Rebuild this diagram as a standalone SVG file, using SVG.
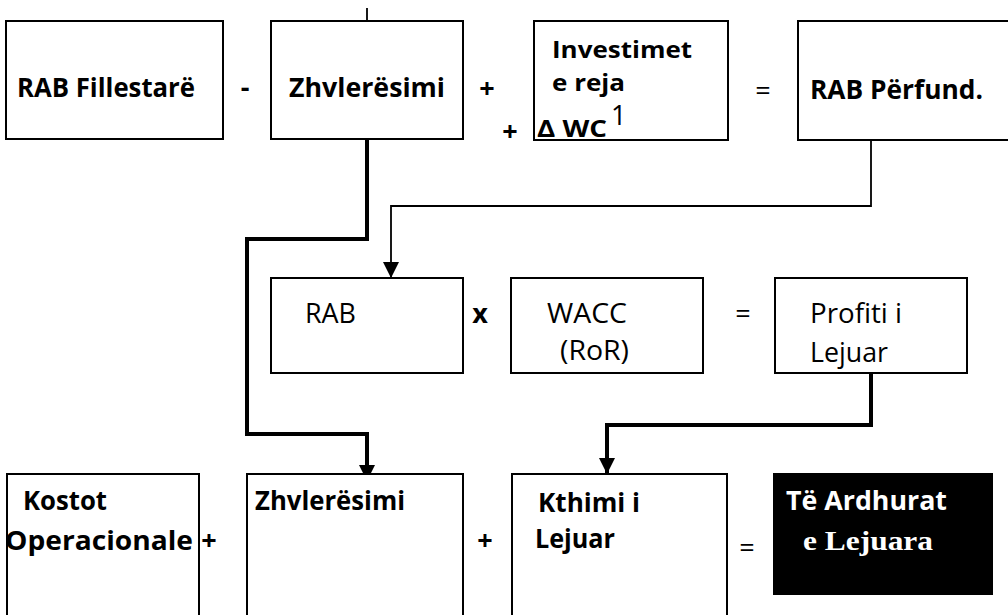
<svg xmlns="http://www.w3.org/2000/svg" width="1008" height="615" viewBox="0 0 1008 615">
<style>
.box{fill:#fff;stroke:#000;stroke-width:2}
.blk{fill:#000;stroke:#000;stroke-width:2}
.t{font-family:"Open Sans","Liberation Sans",sans-serif;font-size:27px;fill:#000}
.s{font-size:24px}
.b{font-weight:bold}
.w{fill:#fff}
.sf{font-family:"Liberation Serif","DejaVu Serif",serif;font-weight:bold;font-size:28px;fill:#fff}
.op{font-family:"Open Sans","Liberation Sans",sans-serif;font-size:27px;fill:#000;text-anchor:middle}
.thin{fill:none;stroke:#000;stroke-width:1.8}
.thick{fill:none;stroke:#000;stroke-width:4}
</style>
<defs>
<marker id="ah" markerUnits="userSpaceOnUse" markerWidth="16" markerHeight="16" viewBox="0 0 16 16" refX="16" refY="8" orient="auto">
<path d="M0,0 L16,8 L0,16 Z" fill="#000"/>
</marker>
</defs>
<g id="connectors">
<path class="thin" d="M367,8 V33"/>
<path class="thin" d="M871,140 V206 H391 V278" marker-end="url(#ah)"/>
<path class="thick" d="M367,140 V239 H247 V434 H367 V481" marker-end="url(#ah)"/>
<path class="thick" d="M871,373 V425 H607 V474" marker-end="url(#ah)"/>
</g>
<g id="n-rab-fillestare">
<rect class="box" x="6" y="21" width="217" height="118"/>
<text class="t b" x="17" y="97" textLength="178" lengthAdjust="spacingAndGlyphs">RAB Fillestarë</text>
</g>
<g id="n-zhvleresimi-top">
<rect class="box" x="271" y="21" width="192" height="118"/>
<text class="t b" x="289" y="97" textLength="156" lengthAdjust="spacingAndGlyphs">Zhvlerësimi</text>
</g>
<g id="n-investimet">
<rect class="box" x="534" y="21" width="194" height="119"/>
<text class="t b s" x="552" y="58" textLength="140" lengthAdjust="spacingAndGlyphs">Investimet</text>
<text class="t b s" x="552" y="91" textLength="73" lengthAdjust="spacingAndGlyphs">e reja</text>
<text class="t b s" x="537" y="137" textLength="70" lengthAdjust="spacingAndGlyphs">Δ WC</text>
<text class="t" x="611" y="125" font-size="14">1</text>
</g>
<g id="n-rab-perfund">
<rect class="box" x="798" y="21" width="215" height="119"/>
<text class="t b" x="810" y="99" textLength="173" lengthAdjust="spacingAndGlyphs">RAB Përfund.</text>
</g>
<g id="n-rab">
<rect class="box" x="271" y="278" width="192" height="95"/>
<text class="t" x="305" y="323" textLength="51" lengthAdjust="spacingAndGlyphs">RAB</text>
</g>
<g id="n-wacc">
<rect class="box" x="511" y="278" width="192" height="95"/>
<text class="t" x="547" y="323" textLength="80" lengthAdjust="spacingAndGlyphs">WACC</text>
<text class="t" x="560" y="360" textLength="69" lengthAdjust="spacingAndGlyphs">(RoR)</text>
</g>
<g id="n-profiti">
<rect class="box" x="775" y="278" width="192" height="95"/>
<text class="t" x="810" y="323" textLength="92" lengthAdjust="spacingAndGlyphs">Profiti i</text>
<text class="t" x="810" y="362" textLength="78" lengthAdjust="spacingAndGlyphs">Lejuar</text>
</g>
<g id="n-kostot">
<rect class="box" x="7" y="474" width="192" height="160"/>
<text class="t b" x="23" y="510" textLength="84" lengthAdjust="spacingAndGlyphs">Kostot</text>
<text class="t b" x="5" y="550" textLength="188" lengthAdjust="spacingAndGlyphs">Operacionale</text>
</g>
<g id="n-zhvleresimi-bottom">
<rect class="box" x="247" y="474" width="216" height="160"/>
<text class="t b" x="255" y="510" textLength="150" lengthAdjust="spacingAndGlyphs">Zhvlerësimi</text>
</g>
<g id="n-kthimi">
<rect class="box" x="512" y="474" width="215" height="160"/>
<text class="t b" x="538" y="512" textLength="102" lengthAdjust="spacingAndGlyphs">Kthimi i</text>
<text class="t b" x="535" y="548" textLength="80" lengthAdjust="spacingAndGlyphs">Lejuar</text>
</g>
<g id="n-te-ardhurat">
<rect class="blk" x="774" y="474" width="218" height="120"/>
<text class="t b w" x="786" y="510" textLength="161" lengthAdjust="spacingAndGlyphs">Të Ardhurat</text>
<text class="sf" x="803" y="550" textLength="130" lengthAdjust="spacingAndGlyphs">e Lejuara</text>
</g>
<g id="operators">
<text class="op" font-weight="bold" x="245" y="97">-</text>
<text class="op" font-weight="bold" x="487" y="98">+</text>
<text class="op" font-weight="bold" x="510" y="141">+</text>
<text class="op" x="763" y="100">=</text>
<text class="op" font-weight="bold" x="480" y="323">x</text>
<text class="op" x="743" y="323">=</text>
<text class="op" font-weight="bold" x="209" y="550">+</text>
<text class="op" font-weight="bold" x="485" y="550">+</text>
<text class="op" x="747" y="557">=</text>
</g>
</svg>
